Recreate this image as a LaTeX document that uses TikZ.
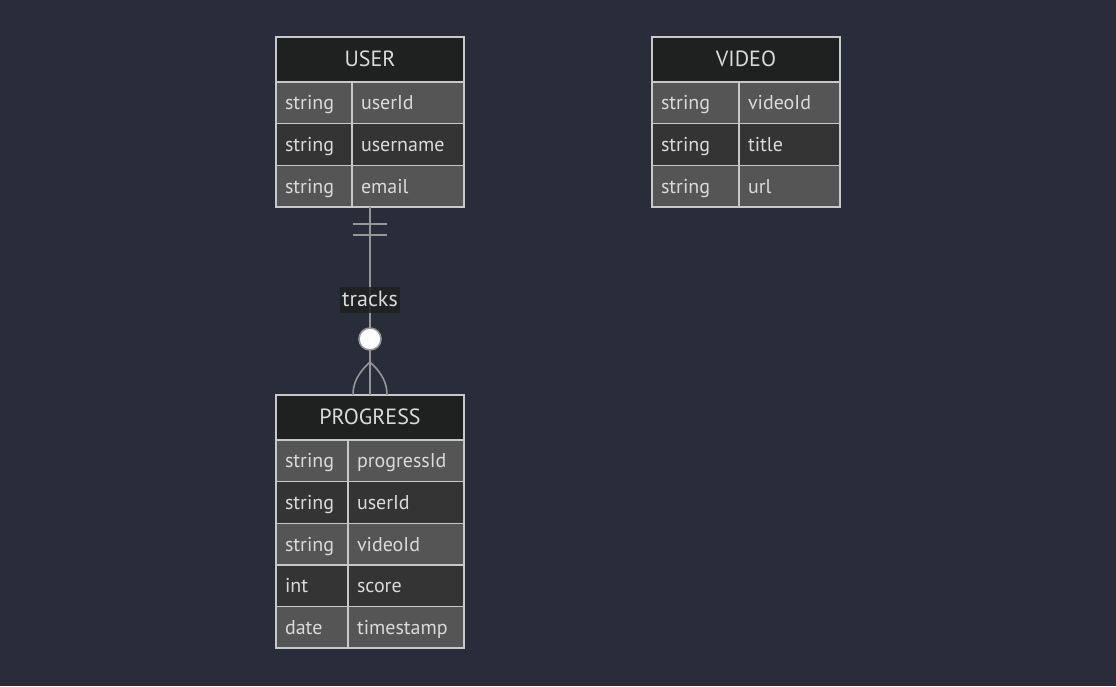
\documentclass[tikz,border=0pt]{standalone}
\usepackage{fontspec}
\setmainfont{PT Sans}
\usetikzlibrary{calc}
\definecolor{bg}{RGB}{41,45,58}
\definecolor{hdr}{RGB}{31,32,32}
\definecolor{rowa}{RGB}{85,85,85}
\definecolor{rowb}{RGB}{52,52,52}
\definecolor{bord}{RGB}{200,200,200}
\definecolor{txt}{RGB}{218,218,218}
\definecolor{edge}{RGB}{150,150,150}
\tikzset{
  hdrbox/.style={draw=bord, line width=1.5pt, fill=hdr, inner sep=0pt, outer sep=0pt,
    anchor=north west, minimum height=45pt, text=txt, text height=16pt, text depth=3pt,
    font=\fontsize{22}{22}\selectfont},
  cell/.style={draw=bord, line width=1.5pt, inner xsep=9pt, inner ysep=0pt, outer sep=0pt,
    anchor=north west, minimum height=41.67pt, align=left, text=txt,
    text height=16pt, text depth=2pt, font=\fontsize{20}{20}\selectfont},
  outline/.style={draw=bord, line width=1.5pt, inner sep=0pt, outer sep=0pt, anchor=north west},
  edgeline/.style={draw=edge, line width=1.6pt},
  lbl/.style={fill=hdr, fill opacity=0.85, text opacity=1, text=txt, inner xsep=2pt,
    inner ysep=3pt, text height=16pt, text depth=4pt, font=\fontsize{22}{22}\selectfont}
}
% name, x, y, width, col1 width, title, rows, height
\newcommand\ertable[8]{%
  \node[hdrbox, minimum width=#4] (#1-h) at (#2,#3) {#6};
  \foreach [count=\i] \ty/\nm in {#7} {
    \pgfmathsetmacro\yy{#3+45+(\i-1)*41.67}
    \pgfmathtruncatemacro\odd{mod(\i,2)}
    \ifnum\odd=1 \def\fc{rowa}\else\def\fc{rowb}\fi
    \node[cell, fill=\fc, minimum width=#5, text width=#5-18] (#1-t\i) at (#2,\yy) {\ty};
    \node[cell, fill=\fc, minimum width=#4-#5, text width=#4-#5-18] (#1-n\i) at (#2+#5,\yy) {\nm};
  }
  \node[outline, minimum width=#4, minimum height=#8] (#1) at (#2,#3) {};
}
\begin{document}
\begin{tikzpicture}[x=1pt,y=-1pt]
  \fill[bg] (0,0) rectangle (1116,686);
  \useasboundingbox (0,0) rectangle (1116,686);
  \ertable{user}{276}{37}{188}{76}{USER}{string/userId,string/username,string/email}{170}
  \ertable{video}{652}{37}{188}{87}{VIDEO}{string/videoId,string/title,string/url}{170}
  \ertable{progress}{276}{395}{188}{72}{PROGRESS}{string/progressId,string/userId,string/videoId,int/score,date/timestamp}{253}
  % relationship
  \draw[edgeline] (user.south) -- (progress.north);
  \draw[edgeline] ($(user.south)+(-17,17)$) -- ($(user.south)+(17,17)$);
  \draw[edgeline] ($(user.south)+(-17,28)$) -- ($(user.south)+(17,28)$);
  \node[lbl] (rel) at (370,300) {tracks};
  \node[circle, draw=edge, line width=1.6pt, fill=white, minimum size=22pt, inner sep=0pt] (zero) at (370,339) {};
  \coordinate (fork) at (370,362);
  \draw[edgeline] (fork) .. controls (357,374) and (353,384) .. ($(progress.north)+(-17,0)$);
  \draw[edgeline] (fork) .. controls (383,374) and (387,384) .. ($(progress.north)+(17,0)$);
\end{tikzpicture}
\end{document}
